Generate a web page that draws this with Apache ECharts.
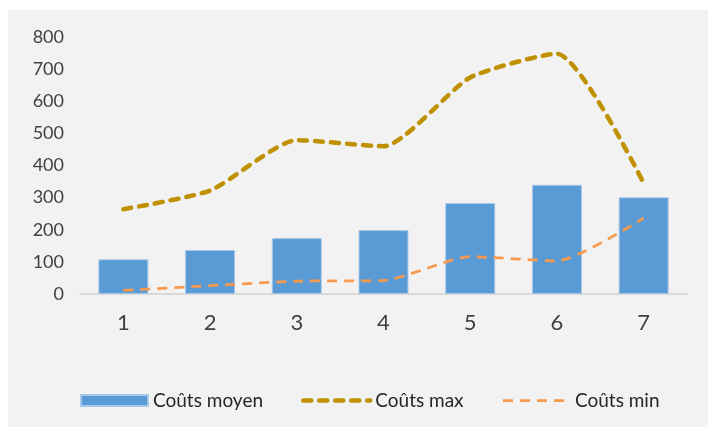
<!DOCTYPE html>
<html>
<head>
<meta charset="utf-8">
<script src="https://cdn.jsdelivr.net/npm/echarts@6/dist/echarts.min.js"></script>
<style>
  html, body { margin: 0; padding: 0; background: #ffffff; }
  #wrap { position: relative; width: 708px; height: 427px; background: #ffffff; overflow: hidden; }
  #chart { position: absolute; left: 8px; top: 10px; width: 700px; height: 417px; background: #f2f2f2; }
</style>
</head>
<body>
<div id="wrap"><div id="chart"></div></div>
<script>
// Categories and series values
var categories = ['1', '2', '3', '4', '5', '6', '7'];
var coutsMoyen = [108, 137, 174, 199, 283, 340, 301];
var coutsMax = [264, 322, 479, 460, 674, 748, 345];
var coutsMin = [11, 26, 40, 42, 116, 103, 236];
var yTicks = [0, 100, 200, 300, 400, 500, 600, 700, 800];

var FONT = 'Lato';

var maxStyle = { color: '#bf9000', width: 4.5, type: [8, 8], cap: 'round' };
var minStyle = { color: '#f79a4e', width: 2.75, type: [10, 7], cap: 'butt' };

var chart = echarts.init(document.getElementById('chart'), null, { renderer: 'canvas' });

chart.setOption({
  backgroundColor: '#f2f2f2',
  animation: false,
  textStyle: { fontFamily: FONT },
  grid: { left: 72, right: 21, top: 27, bottom: 133, containLabel: false },
  legend: {
    left: 72,
    top: 381,
    padding: 0,
    itemWidth: 67,
    itemHeight: 11,
    itemGap: 38,
    textStyle: { fontFamily: FONT, fontSize: 19, color: '#262626' },
    data: [
      { name: 'Coûts moyen', icon: 'rect' },
      { name: 'Coûts max', itemStyle: { opacity: 0 }, lineStyle: maxStyle },
      { name: 'Coûts min', itemStyle: { opacity: 0 }, lineStyle: minStyle }
    ]
  },
  xAxis: {
    type: 'category',
    data: categories,
    axisLine: { lineStyle: { color: '#d9d9d9', width: 2 } },
    axisTick: { show: false },
    axisLabel: { fontFamily: FONT, fontSize: 22, color: '#404040', margin: 18 }
  },
  yAxis: {
    type: 'value',
    min: yTicks[0],
    max: yTicks[yTicks.length - 1],
    interval: yTicks[1] - yTicks[0],
    axisLine: { show: false },
    axisTick: { show: false },
    splitLine: { show: false },
    axisLabel: { fontFamily: FONT, fontSize: 18, color: '#404040', margin: 16 }
  },
  series: [
    {
      name: 'Coûts moyen',
      type: 'bar',
      data: coutsMoyen,
      barWidth: 50,
      itemStyle: { color: '#5b9bd5', borderColor: '#a8c8ea', borderWidth: 1 },
      z: 2
    },
    {
      name: 'Coûts max',
      type: 'line',
      data: coutsMax,
      smooth: 0.2,
      symbol: 'none',
      lineStyle: maxStyle,
      itemStyle: { color: '#bf9000' },
      z: 4
    },
    {
      name: 'Coûts min',
      type: 'line',
      data: coutsMin,
      smooth: 0.2,
      symbol: 'none',
      lineStyle: minStyle,
      itemStyle: { color: '#f79a4e' },
      z: 3
    }
  ]
});
</script>
</body>
</html>
